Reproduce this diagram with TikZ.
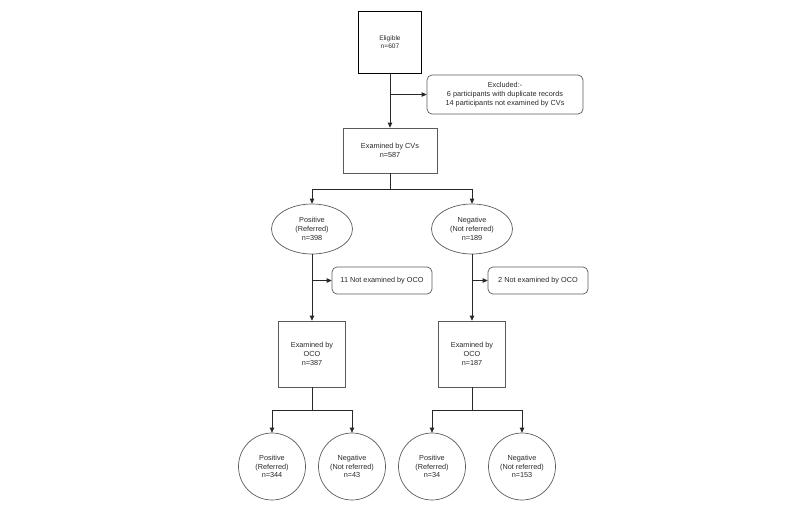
\documentclass[tikz,border=0pt]{standalone}
\usepackage{fontspec}
\setmainfont{Liberation Sans}
\definecolor{ink}{RGB}{40,40,40}
\definecolor{edge}{RGB}{90,90,90}
\usetikzlibrary{arrows.meta,positioning,shapes.geometric}
\tikzset{
  box/.style={draw=edge,line width=0.7pt,align=center,text=ink,
              font=\fontsize{7.3}{8.7}\selectfont,inner sep=2pt},
  topbox/.style={box,draw=black,line width=1.8pt,minimum width=63pt,minimum height=62pt,
              font=\fontsize{6.6}{8}\selectfont},
  note/.style={box,rounded corners=5pt},
  oval/.style={box,ellipse,minimum width=81pt,minimum height=50pt,inner sep=0pt},
  endpt/.style={box,circle,minimum size=67pt,inner sep=0pt},
  arr/.style={-{Triangle[length=5pt,width=4.5pt]},line width=0.9pt,draw=ink},
}

\begin{document}
\begin{tikzpicture}[x=1pt,y=-1pt]
    \useasboundingbox (0,0) rectangle (800,515);
    \node[topbox] (elig) at (390,42.5) {Eligible\\n=607};
    \node[note,minimum width=156pt,minimum height=39pt] (excl) at (505,94.5)
      {Excluded:-\\6 participants with duplicate records\\14 participants not examined by CVs};
    \node[box,minimum width=94pt,minimum height=45pt] (cvs) at (390,150.5) {Examined by CVs\\n=587};
    \node[oval] (pos) at (312,229) {Positive\\(Referred)\\n=398};
    \node[oval] (neg) at (472,229) {Negative\\(Not referred)\\n=189};
    \node[note,minimum width=100pt,minimum height=27pt] (nexl) at (382,280.5) {11 Not examined by OCO};
    \node[note,minimum width=100pt,minimum height=27pt] (nexr) at (538,280.5) {2 Not examined by OCO};
    \node[box,minimum width=67pt,minimum height=66pt] (ocol) at (312,354) {Examined by\\OCO\\n=387};
    \node[box,minimum width=67pt,minimum height=66pt] (ocor) at (472,354) {Examined by\\OCO\\n=187};
    \node[endpt] (ll) at (272,466.5) {Positive\\(Referred)\\n=344};
    \node[endpt] (lr) at (352,466.5) {Negative\\(Not referred)\\n=43};
    \node[endpt] (rl) at (432,466.5) {Positive\\(Referred)\\n=34};
    \node[endpt] (rr) at (522,466.5) {Negative\\(Not referred)\\n=153};
    % top part
    \draw[arr] (elig) -- (cvs);
    \draw[arr] (elig.south |- excl.west) -- (excl.west);
    \draw[arr] (cvs.south) -- ++(0,16) -| (pos.north);
    \draw[arr] (cvs.south) -- ++(0,16) -| (neg.north);
    % second level
    \draw[arr] (pos) -- (ocol);
    \draw[arr] (pos.south |- nexl.west) -- (nexl.west);
    \draw[arr] (neg) -- (ocor);
    \draw[arr] (neg.south |- nexr.west) -- (nexr.west);
    % outcomes
    \draw[arr] (ocol.south) -- ++(0,23) -| (ll.north);
    \draw[arr] (ocol.south) -- ++(0,23) -| (lr.north);
    \draw[arr] (ocor.south) -- ++(0,23) -| (rl.north);
    \draw[arr] (ocor.south) -- ++(0,23) -| (rr.north);
\end{tikzpicture}
\end{document}
